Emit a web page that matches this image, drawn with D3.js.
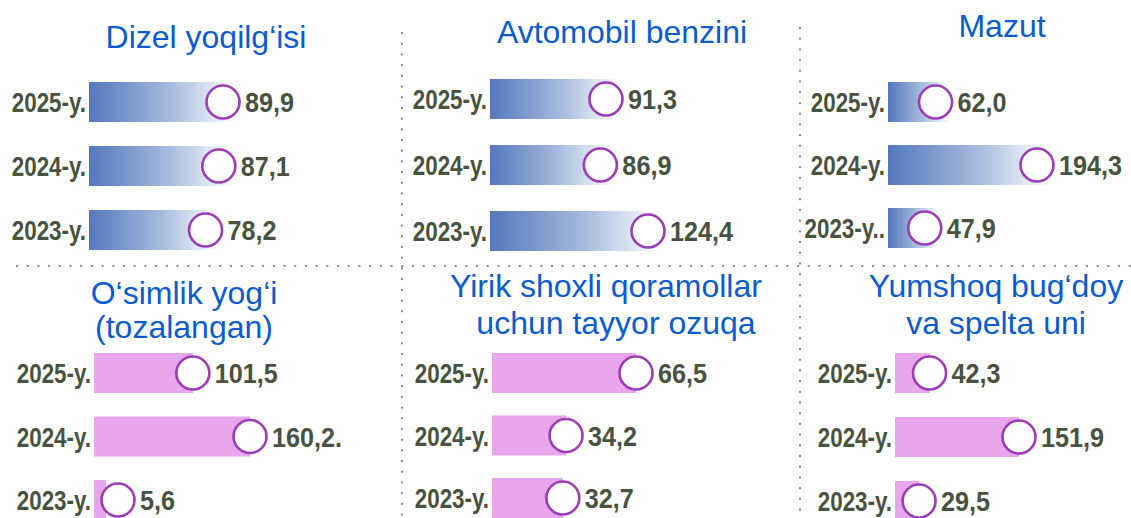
<!DOCTYPE html>
<html>
<head>
<meta charset="utf-8">
<script src="https://cdn.jsdelivr.net/npm/d3@7"></script>
<style>
html,body{margin:0;padding:0;background:#fff;}
svg{display:block;}
</style>
</head>
<body>
<svg id="chart" width="1131" height="518"></svg>
<script>
// ---- data ----
const titles = [
  ["Dizel yoqilg‘isi"],
  ["Avtomobil benzini"],
  ["Mazut"],
  ["O‘simlik yog‘i", "(tozalangan)"],
  ["Yirik shoxli qoramollar", "uchun tayyor ozuqa"],
  ["Yumshoq bug‘doy", "va spelta uni"]
];
const yearLabels = [
  ["2025-y.", "2024-y.", "2023-y."],
  ["2025-y.", "2024-y.", "2023-y."],
  ["2025-y.", "2024-y.", "2023-y.."],
  ["2025-y.", "2024-y.", "2023-y."],
  ["2025-y.", "2024-y.", "2023-y."],
  ["2025-y.", "2024-y.", "2023-y."]
];
const values = [
  [89.9, 87.1, 78.2],
  [91.3, 86.9, 124.4],
  [62.0, 194.3, 47.9],
  [101.5, 160.2, 5.6],
  [66.5, 34.2, 32.7],
  [42.3, 151.9, 29.5]
];
const valueLabels = [
  ["89,9", "87,1", "78,2"],
  ["91,3", "86,9", "124,4"],
  ["62,0", "194,3", "47,9"],
  ["101,5", "160,2.", "5,6"],
  ["66,5", "34,2", "32,7"],
  ["42,3", "151,9", "29,5"]
];

// ---- layout (positions / styles) ----
const layout = [
  {barX: 89,  maxLen: 134, rowY: [102, 230], titleX: 206,  titleY: [48]},
  {barX: 490, maxLen: 158, rowY: [99, 231],  titleX: 622,  titleY: [43]},
  {barX: 888, maxLen: 149, rowY: [102, 228], titleX: 1002, titleY: [37]},
  {barX: 94,  maxLen: 156, rowY: [373, 500], titleX: 184,  titleY: [304, 338]},
  {barX: 492, maxLen: 144, rowY: [373, 498], titleX: [606, 616], titleY: [297, 334]},
  {barX: 895, maxLen: 124, rowY: [373, 501], titleX: 996,  titleY: [297, 334]}
];
const gradientPanels = [true, true, true, false, false, false];

const svg = d3.select("#chart");
const defs = svg.append("defs");
const grad = defs.append("linearGradient").attr("id", "blueGrad")
  .attr("x1", "0%").attr("x2", "100%").attr("y1", "0%").attr("y2", "0%");
grad.append("stop").attr("offset", "0%").attr("stop-color", "#5378bc");
grad.append("stop").attr("offset", "55%").attr("stop-color", "#a6bbdd");
grad.append("stop").attr("offset", "100%").attr("stop-color", "#ffffff");

// dotted separators
const sep = svg.append("g").attr("fill", "#8a8a8a");
d3.range(17, 1131, 10.7).forEach(x => sep.append("rect").attr("x", x - 1).attr("y", 265).attr("width", 2).attr("height", 2));
d3.range(33, 518, 10.7).forEach(y => sep.append("rect").attr("x", 401).attr("y", y - 1).attr("width", 2).attr("height", 2));
d3.range(28, 518, 10.7).forEach(y => sep.append("rect").attr("x", 799).attr("y", y - 1).attr("width", 2).attr("height", 2));

const labelFont = "'Liberation Sans', Arial, sans-serif";

function narrowText(parent, x, y, anchor, str, squeeze) {
  return parent.append("text")
    .attr("transform", `translate(${x},${y}) scale(${squeeze},1)`)
    .attr("text-anchor", anchor).attr("font-family", labelFont)
    .attr("font-weight", "bold").attr("font-size", 28).attr("fill", "#485240")
    .text(str);
}

titles.forEach((t, i) => {
  const L = layout[i];
  const g = svg.append("g");
  // title
  t.forEach((line, j) => {
    const tx = Array.isArray(L.titleX) ? L.titleX[j] : L.titleX;
    g.append("text").attr("x", tx).attr("y", L.titleY[j])
      .attr("text-anchor", "middle")
      .attr("font-family", "'Liberation Sans', Arial, sans-serif")
      .attr("font-size", 32).attr("fill", "#0b5bd0").text(line);
  });

  const y = d3.scalePoint().domain(yearLabels[i].map((d, k) => k)).range(L.rowY);
  const x = d3.scaleLinear().domain([0, d3.max(values[i])]).range([0, L.maxLen]);
  const barH = 40;

  values[i].forEach((v, k) => {
    const cy = y(k);
    const len = x(v);
    const cx = L.barX + Math.max(len, 24);
    if (gradientPanels[i]) {
      g.append("rect").attr("x", L.barX).attr("y", cy - barH / 2)
        .attr("width", len + 14).attr("height", barH).attr("fill", "url(#blueGrad)");
    } else {
      g.append("rect").attr("x", L.barX).attr("y", cy - barH / 2)
        .attr("width", Math.max(len, 12)).attr("height", barH).attr("fill", "#e8a6ec");
    }
    g.append("circle").attr("cx", cx).attr("cy", cy).attr("r", 16.5)
      .attr("fill", "#fff").attr("stroke", "#9c3db5").attr("stroke-width", 2.6);
    narrowText(g, L.barX - 3, cy + 10, "end", yearLabels[i][k], 0.80);
    narrowText(g, cx + 22, cy + 10, "start", valueLabels[i][k], 0.90);
  });
});
</script>
</body>
</html>
